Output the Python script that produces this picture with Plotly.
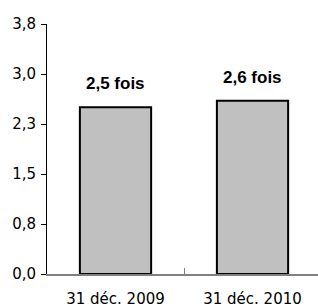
import plotly.graph_objects as go

categories = ["31 déc. 2009", "31 déc. 2010"]
values = [2.5, 2.6]
bar_labels = ["2,5 fois", "2,6 fois"]
ytick_vals = [0.0, 0.75, 1.5, 2.25, 3.0, 3.75]
ytick_text = ["0,0", "0,8", "1,5", "2,3", "3,0", "3,8"]

tick_family = "DejaVu Sans, Verdana, sans-serif"
label_family = "Liberation Sans, Arial, sans-serif"

fig = go.Figure()
fig.add_trace(go.Bar(
    x=categories, y=values,
    width=0.52,
    marker=dict(color="#c0c0c0", line=dict(color="#000000", width=2)),
    hoverinfo="skip",
))

for c, v, t in zip(categories, values, bar_labels):
    fig.add_annotation(x=c, y=v, text=t, showarrow=False,
                       yanchor="bottom", yshift=12,
                       font=dict(family=label_family, size=17, color="#000000", weight="bold"))

fig.update_layout(
    width=318, height=308,
    margin=dict(l=47, r=0, t=24, b=34),
    paper_bgcolor="white", plot_bgcolor="white",
    showlegend=False,
    font=dict(family=tick_family, color="#000000"),
    xaxis=dict(
        type="category",
        range=[-0.5, 1.478],
        showline=True, linecolor="#808080", linewidth=2,
        ticks="inside", tickson="boundaries", ticklen=6, tickcolor="#808080", tickwidth=1,
        showgrid=False, zeroline=False,
        tickfont=dict(size=15, family=tick_family, color="#000000"),
        ticklabelstandoff=10,
    ),
    yaxis=dict(
        range=[0, 3.75],
        tickvals=ytick_vals, ticktext=ytick_text,
        showline=True, linecolor="#000000", linewidth=1,
        ticks="outside", ticklen=5, tickcolor="#000000", tickwidth=1,
        showgrid=False, zeroline=False,
        tickfont=dict(size=15, family=tick_family, color="#000000"),
        ticklabelstandoff=2,
    ),
)

fig.write_html("out.html", config={"displayModeBar": False},
               post_script="document.body.style.margin='0';document.body.style.overflow='hidden';")
